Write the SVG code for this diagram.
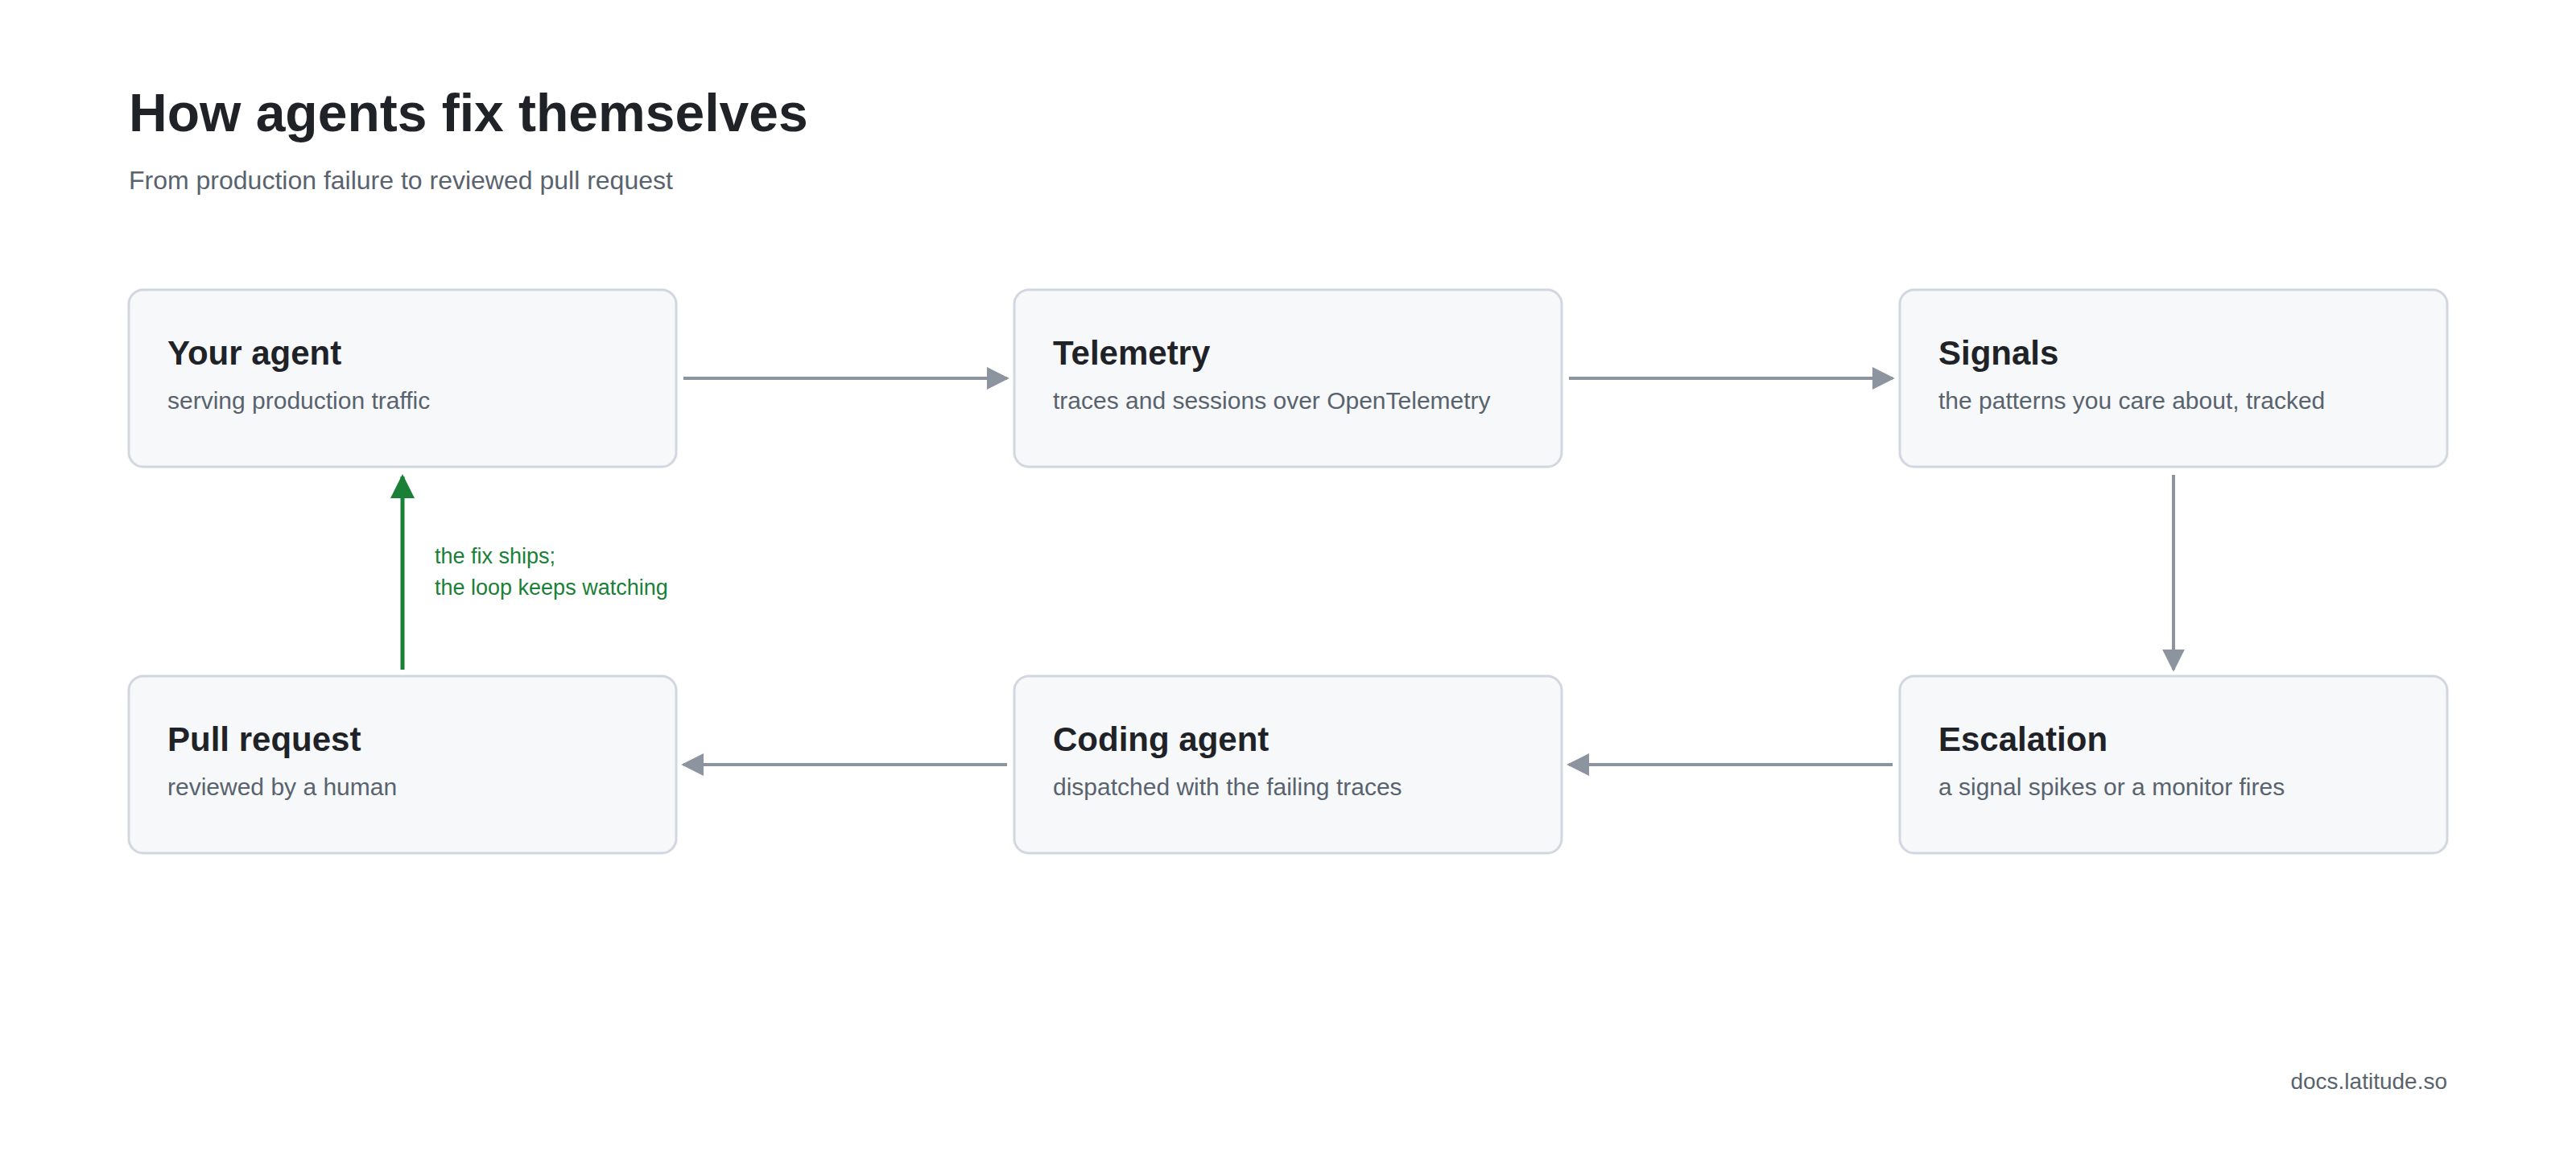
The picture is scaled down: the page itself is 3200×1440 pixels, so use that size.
<svg xmlns="http://www.w3.org/2000/svg" width="3200" height="1440" viewBox="0 0 3200 1440">
<defs>
<style>
text{font-family:"Liberation Sans",Arial,sans-serif}
.box{fill:#f6f8fa;stroke:#d1d7e0;stroke-width:3}
.t{font-size:42px;font-weight:bold;fill:#1f2328}
.s{font-size:30px;fill:#59636e}
.c{stroke:#8c959f;stroke-width:4;fill:none;marker-end:url(#ag)}
</style>
<marker id="ag" viewBox="0 0 10 10" refX="9" refY="5" markerWidth="7" markerHeight="7" markerUnits="strokeWidth" orient="auto"><path d="M0 0L10 5L0 10z" fill="#8c959f"/></marker>
<marker id="gg" viewBox="0 0 10 10" refX="9" refY="5" markerWidth="6" markerHeight="6" markerUnits="strokeWidth" orient="auto"><path d="M0 0L10 5L0 10z" fill="#1a7f37"/></marker>
</defs>
<rect width="3200" height="1440" fill="#fff"/>
<text x="160" y="163" font-size="66" font-weight="bold" fill="#1f2328">How agents fix themselves</text>
<text x="160" y="235" font-size="32" fill="#59636e">From production failure to reviewed pull request</text>
<g id="connectors">
<path class="c" d="M849 470H1251"/>
<path class="c" d="M1949 470H2351"/>
<path class="c" d="M2700 590V832"/>
<path class="c" d="M2351 950H1949"/>
<path class="c" d="M1251 950H849"/>
<path d="M500 832V592" stroke="#1a7f37" stroke-width="5" fill="none" marker-end="url(#gg)"/>
<text x="540" y="700" font-size="27" fill="#1a7f37">the fix ships;</text>
<text x="540" y="739" font-size="27" fill="#1a7f37">the loop keeps watching</text>
</g>
<g id="n1"><rect class="box" x="160" y="360" width="680" height="220" rx="18"/><text class="t" x="208" y="453">Your agent</text><text class="s" x="208" y="508">serving production traffic</text></g>
<g id="n2"><rect class="box" x="1260" y="360" width="680" height="220" rx="18"/><text class="t" x="1308" y="453">Telemetry</text><text class="s" x="1308" y="508">traces and sessions over OpenTelemetry</text></g>
<g id="n3"><rect class="box" x="2360" y="360" width="680" height="220" rx="18"/><text class="t" x="2408" y="453">Signals</text><text class="s" x="2408" y="508">the patterns you care about, tracked</text></g>
<g id="n4"><rect class="box" x="2360" y="840" width="680" height="220" rx="18"/><text class="t" x="2408" y="933">Escalation</text><text class="s" x="2408" y="988">a signal spikes or a monitor fires</text></g>
<g id="n5"><rect class="box" x="1260" y="840" width="680" height="220" rx="18"/><text class="t" x="1308" y="933">Coding agent</text><text class="s" x="1308" y="988">dispatched with the failing traces</text></g>
<g id="n6"><rect class="box" x="160" y="840" width="680" height="220" rx="18"/><text class="t" x="208" y="933">Pull request</text><text class="s" x="208" y="988">reviewed by a human</text></g>
<text x="3040" y="1353" font-size="28" fill="#59636e" text-anchor="end">docs.latitude.so</text>
</svg>
